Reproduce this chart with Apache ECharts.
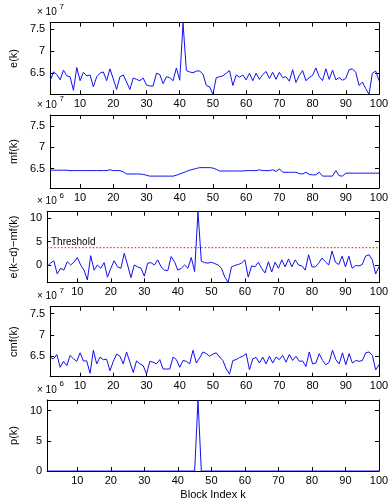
<!DOCTYPE html>
<html><head><meta charset="utf-8">
<script src="https://cdn.jsdelivr.net/npm/echarts@6/dist/echarts.min.js"></script>
<style>html,body{margin:0;padding:0;background:#fff}#c{width:392px;height:501px}</style>
</head><body><div id="c"></div>
<script>
// Block index k
const blockIndex = [1,2,3,4,5,6,7,8,9,10,11,12,13,14,15,16,17,18,19,20,
21,22,23,24,25,26,27,28,29,30,31,32,33,34,35,36,37,38,39,40,
41,42,43,44,45,46,47,48,49,50,51,52,53,54,55,56,57,58,59,60,
61,62,63,64,65,66,67,68,69,70,71,72,73,74,75,76,77,78,79,80,
81,82,83,84,85,86,87,88,89,90,91,92,93,94,95,96,97,98,99,100];

// e(k), x 10^7
const eVals = [6.33,6.53,6.47,6.35,6.57,6.44,6.42,6.11,6.63,6.33,
6.52,6.44,6.46,6.19,6.42,6.50,6.53,6.33,6.60,6.37,
6.13,6.42,6.46,6.30,6.13,6.39,6.36,6.33,6.39,6.23,
6.21,6.21,6.50,6.47,6.26,6.42,6.40,6.33,6.62,6.34,
7.64,6.56,6.53,6.51,6.55,6.55,6.48,6.22,6.19,6.02,
6.40,6.42,6.44,6.50,6.56,6.22,6.46,6.41,6.46,6.35,
6.50,6.33,6.50,6.36,6.47,6.54,6.38,6.52,6.36,6.52,
6.40,6.42,6.32,6.58,6.29,6.45,6.56,6.33,6.40,6.45,
6.62,6.42,6.33,6.60,6.36,6.57,6.35,6.40,6.34,6.38,
6.58,6.60,6.52,6.22,6.30,6.15,6.02,6.50,6.55,6.33];

// mf(k), x 10^7
const mfVals = [6.46,6.46,6.46,6.46,6.46,6.46,6.45,6.45,6.45,6.45,
6.45,6.45,6.45,6.45,6.45,6.45,6.45,6.45,6.47,6.45,
6.45,6.45,6.42,6.37,6.37,6.37,6.37,6.37,6.36,6.34,
6.32,6.32,6.32,6.32,6.32,6.32,6.32,6.32,6.34,6.37,
6.40,6.43,6.46,6.48,6.50,6.52,6.52,6.52,6.52,6.51,
6.48,6.44,6.44,6.44,6.44,6.44,6.44,6.44,6.44,6.45,
6.45,6.45,6.45,6.47,6.45,6.45,6.45,6.47,6.43,6.49,
6.41,6.41,6.41,6.41,6.41,6.38,6.37,6.41,6.36,6.35,
6.35,6.41,6.32,6.32,6.32,6.32,6.45,6.33,6.32,6.39,
6.39,6.39,6.39,6.39,6.39,6.39,6.39,6.39,6.39,6.39];

// e(k-d)-mf(k), x 10^6
const diffVals = [-0.3,0.4,0.9,-1.9,-0.7,-1.1,0.7,0.0,0.6,1.6,
0.0,-1.1,-3.2,2.0,-1.1,0.0,-0.7,0.5,-2.6,-0.7,
0.9,-0.4,-0.7,2.5,0.0,-2.7,0.0,-0.4,-0.7,-2.4,
0.4,0.5,0.0,1.1,-0.4,-1.1,-1.2,1.8,0.7,-1.1,
-0.7,0.0,-0.7,1.6,-1.4,11.4,0.8,0.5,0.4,0.6,
0.3,0.0,-0.7,-2.6,-3.7,-0.4,-0.1,0.1,0.4,1.1,
-2.6,-0.2,-0.4,0.6,-0.7,-1.7,0.7,-1.5,0.6,-0.7,
1.1,-0.4,1.3,-0.4,1.1,0.0,-0.2,-1.1,2.2,-0.4,
-0.4,0.4,1.5,0.7,0.0,3.0,0.6,0.1,1.9,-0.4,
1.9,-0.7,-0.1,-0.2,0.1,1.9,2.2,1.1,-1.9,-0.4];

const thresholdVal = 3.7;

// cmf(k), x 10^7
const cmfVals = [6.47,6.44,6.54,6.24,6.38,6.28,6.52,6.44,6.38,6.58,
6.39,6.39,6.10,6.64,6.32,6.48,6.42,6.43,6.16,6.38,
6.55,6.50,6.32,6.60,6.36,6.12,6.39,6.32,6.28,6.08,
6.38,6.36,6.32,6.42,6.20,6.20,6.20,6.48,6.42,6.24,
6.40,6.38,6.32,6.64,6.34,6.46,6.60,6.56,6.50,6.55,
6.58,6.48,6.40,6.20,6.08,6.40,6.42,6.47,6.50,6.56,
6.18,6.44,6.47,6.34,6.48,6.32,6.50,6.34,6.48,6.42,
6.52,6.36,6.54,6.40,6.50,6.38,6.39,6.26,6.60,6.32,
6.34,6.56,6.40,6.30,6.36,6.64,6.42,6.32,6.58,6.30,
6.56,6.34,6.40,6.38,6.40,6.58,6.60,6.52,6.18,6.30];

// p(k), x 10^6
const pVals = [0,0,0,0,0,0,0,0,0,0,0,0,0,0,0,0,0,0,0,0,
0,0,0,0,0,0,0,0,0,0,0,0,0,0,0,0,0,0,0,0,
0,0,0,0,0,11.75,0,0,0,0,0,0,0,0,0,0,0,0,0,0,
0,0,0,0,0,0,0,0,0,0,0,0,0,0,0,0,0,0,0,0,
0,0,0,0,0,0,0,0,0,0,0,0,0,0,0,0,0,0,0,0];

const xTicks = [10,20,30,40,50,60,70,80,90,100];
const yTicksE = [6.5,7,7.5];
const yTicksD = [0,5,10];
const panelNames = ['e(k)','mf(k)','e(k\u2212d)\u2212mf(k)','cmf(k)','p(k)'];
const exponents = ['7','7','6','7','6'];
const xAxisTitle = 'Block Index k';
const thresholdText = 'Threshold';

const panels = [
  {top:22.7, height:71.6, min:6.02, max:7.65, ticks:yTicksE, vals:eVals},
  {top:115,  height:73,   min:6.04, max:7.76, ticks:yTicksE, vals:mfVals},
  {top:211.7,height:70.6, min:-3.7, max:11.4, ticks:yTicksD, vals:diffVals},
  {top:306.7,height:70,   min:6.02, max:7.66, ticks:yTicksE, vals:cmfVals},
  {top:400,  height:71.7, min:0,    max:11.75,ticks:yTicksD, vals:pVals}
];

const FONT = 'Liberation Sans, Arial, Helvetica, sans-serif';
const black = '#000';
const grids = [], xAxes = [], yAxes = [], series = [], graphics = [];
panels.forEach((p, i) => {
  grids.push({left:38, width:341, top:p.top, height:p.height, containLabel:false});
  const baseX = {
    type:'value', gridIndex:i, min:1, max:100,
    axisLine:{show:true, onZero:false, lineStyle:{color:black, width:1}},
    axisTick:{show:true, inside:true, length:4, customValues:xTicks, lineStyle:{color:black}},
    splitLine:{show:false}
  };
  xAxes.push(Object.assign({}, baseX, {
    position:'bottom',
    axisLabel:{show:true, customValues:xTicks, color:black, fontSize:11, fontFamily:FONT, margin:4},
    name: i === 4 ? xAxisTitle : '', nameLocation:'middle', nameGap:18,
    nameTextStyle:{color:black, fontSize:11, fontFamily:FONT}
  }));
  xAxes.push(Object.assign({}, baseX, {position:'top', axisLabel:{show:false}}));
  const baseY = {
    type:'value', gridIndex:i, min:p.min, max:p.max,
    axisLine:{show:true, onZero:false, lineStyle:{color:black, width:1}},
    axisTick:{show:true, inside:true, length:4, customValues:p.ticks, lineStyle:{color:black}},
    splitLine:{show:false}
  };
  yAxes.push(Object.assign({}, baseY, {
    position:'left',
    axisLabel:{show:true, customValues:p.ticks, color:black, fontSize:11, fontFamily:FONT, margin:5},
    name: panelNames[i], nameLocation:'middle', nameGap:21,
    nameTextStyle:{color:black, fontSize:11, fontFamily:FONT}
  }));
  yAxes.push(Object.assign({}, baseY, {position:'right', axisLabel:{show:false}}));
  series.push({
    type:'line', xAxisIndex:2*i, yAxisIndex:2*i,
    data: blockIndex.map((k, j) => [k, p.vals[j]]),
    showSymbol:false, symbol:'none', clip:true, color:'#1010f0',
    lineStyle:{color:'#1010f0', width:1}, z:3
  });
  graphics.push({type:'text', left:37, top:p.top - 15,
    style:{text:'\u00d7 10', fontSize:10, fontFamily:FONT, fill:black}});
  graphics.push({type:'text', left:59.5, top:p.top - 20,
    style:{text:exponents[i], fontSize:8, fontFamily:FONT, fill:black}});
});
series.push({
  type:'line', xAxisIndex:4, yAxisIndex:4, color:'#ff0000',
  data:[[blockIndex[0], thresholdVal],[blockIndex[blockIndex.length-1], thresholdVal]],
  showSymbol:false, symbol:'none',
  lineStyle:{color:'#ff0000', width:1, type:[1.5,2]}, z:2
});
graphics.push({type:'text', left:51, top:237,
  style:{text:thresholdText, fontSize:10, fontFamily:FONT, fill:black}});

const chart = echarts.init(document.getElementById('c'), null, {renderer:'canvas'});
chart.setOption({
  animation:false,
  backgroundColor:'#fff',
  grid:grids, xAxis:xAxes, yAxis:yAxes, series:series, graphic:graphics
});
</script></body></html>
